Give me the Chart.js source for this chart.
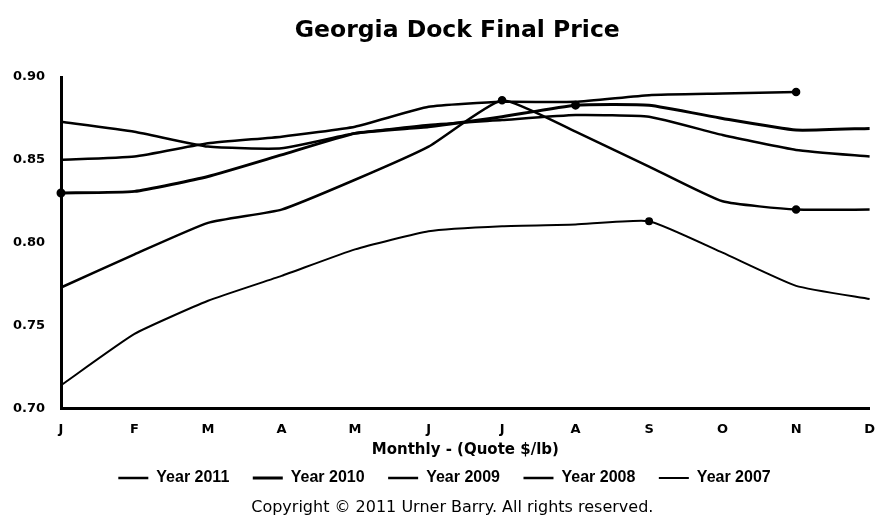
<!DOCTYPE html>
<html>
<head>
<meta charset="utf-8">
<script src="https://cdn.jsdelivr.net/npm/chart.js@4.4.0/dist/chart.umd.min.js"></script>
<style>
  html, body { margin: 0; padding: 0; background: #fff; }
  .wrap { width: 876px; height: 524px; }
</style>
</head>
<body>
<div class="wrap"><canvas id="myChart" width="876" height="524"></canvas></div>
<script>
const months = ["J", "F", "M", "A", "M", "J", "J", "A", "S", "O", "N", "D"];
const seriesNames = ["Year 2011", "Year 2010", "Year 2009", "Year 2008", "Year 2007"];

const year2011 = [0.850, 0.852, 0.860, 0.864, 0.870, 0.882, 0.885, 0.885, 0.889, 0.890, 0.891, null];
const year2010 = [0.830, 0.831, 0.840, 0.853, 0.866, 0.870, 0.876, 0.883, 0.883, 0.875, 0.868, 0.869];
const year2009 = [0.873, 0.867, 0.858, 0.857, 0.866, 0.871, 0.874, 0.877, 0.876, 0.865, 0.856, 0.852];
const year2008 = [0.773, 0.793, 0.812, 0.820, 0.838, 0.858, 0.886, 0.867, 0.846, 0.825, 0.820, 0.820];
const year2007 = [0.714, 0.745, 0.765, 0.780, 0.796, 0.807, 0.810, 0.811, 0.813, 0.794, 0.774, 0.766];

// months (index) that carry a dot in the original
const dots2011 = [10];
const dots2010 = [0, 7];
const dots2008 = [6, 10];
const dots2007 = [8];

const titleText = "Georgia Dock Final Price";
const copyrightText = "Copyright \u00A9 2011 Urner Barry. All rights reserved.";

const radii = (idx) => months.map((m, i) => idx.includes(i) ? 3 : 0);

const makeSet = (label, data, idx, width) => ({
    label: label,
    data: data,
    borderColor: "#000",
    backgroundColor: "#000",
    borderWidth: width,
    pointRadius: radii(idx),
    pointHoverRadius: 0,
    tension: 0.15,
    spanGaps: false
});

// title and copyright sit a bit left of the plot centre, like the original
const sideTexts = {
    id: "sideTexts",
    afterDraw(chart) {
        const ctx = chart.ctx;
        const a = chart.chartArea;
        const cx = (a.left + a.right) / 2;
        ctx.save();
        ctx.fillStyle = "#000";
        ctx.textAlign = "center";
        ctx.textBaseline = "middle";
        ctx.font = "bold 23.5px 'DejaVu Sans'";
        ctx.fillText(titleText, cx - 8, 31);
        ctx.font = "16px 'DejaVu Sans'";
        ctx.fillText(copyrightText, cx - 13, 508);
        ctx.restore();
    }
};

const ctx = document.getElementById("myChart").getContext("2d");
const myChart = new Chart(ctx, {
    type: "line",
    data: {
        labels: months,
        datasets: [
            makeSet(seriesNames[0], year2011, dots2011, 2.5),
            makeSet(seriesNames[1], year2010, dots2010, 3),
            makeSet(seriesNames[2], year2009, [], 2.5),
            makeSet(seriesNames[3], year2008, dots2008, 2.5),
            makeSet(seriesNames[4], year2007, dots2007, 2)
        ]
    },
    options: {
        responsive: false,
        animation: false,
        layout: { padding: { top: 77, left: 13, right: 0, bottom: 28 } },
        plugins: {
            title: { display: false },
            tooltip: { enabled: false },
            legend: {
                position: "bottom",
                labels: {
                    color: "#000",
                    usePointStyle: true,
                    pointStyle: "line",
                    pointStyleWidth: 30,
                    padding: 23.5,
                    font: { family: "'Liberation Sans'", weight: "bold", size: 16 }
                }
            }
        },
        scales: {
            x: {
                offset: false,
                // invisible tick marks only push the labels down
                grid: { display: true, color: "rgba(0,0,0,0)", drawOnChartArea: false, drawTicks: true, tickLength: 12 },
                border: { display: true, color: "#000", width: 3 },
                afterFit: (scale) => { scale.height = 38; },
                ticks: {
                    color: "#000",
                    padding: 1,
                    maxRotation: 0,
                    autoSkip: false,
                    font: { family: "'DejaVu Sans'", weight: "bold", size: 13 }
                },
                title: {
                    display: true,
                    text: "Monthly - (Quote $/lb)",
                    color: "#000",
                    padding: { top: 0, bottom: -13 },
                    font: { family: "'DejaVu Sans'", weight: "bold", size: 15 }
                }
            },
            y: {
                min: 0.70,
                max: 0.90,
                grid: { display: false, drawTicks: false },
                border: { display: true, color: "#000", width: 3 },
                afterFit: (scale) => { scale.width = 48; },
                ticks: {
                    stepSize: 0.05,
                    color: "#000",
                    padding: 16,
                    font: { family: "'DejaVu Sans'", weight: "bold", size: 13 },
                    callback: (v) => v.toFixed(2)
                }
            }
        }
    },
    plugins: [sideTexts]
});
</script>
</body>
</html>
